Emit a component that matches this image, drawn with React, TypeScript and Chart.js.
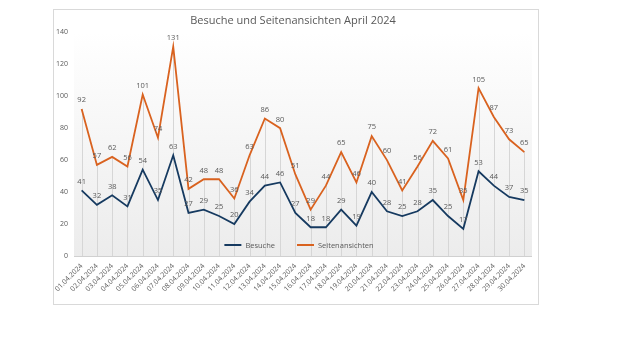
import React, { useEffect, useRef } from "react";
import { Chart, registerables } from "chart.js";

Chart.register(...registerables);

const TITLE = "Besuche und Seitenansichten April 2024";
const DATES = [
  "01.04.2024", "02.04.2024", "03.04.2024", "04.04.2024", "05.04.2024", "06.04.2024",
  "07.04.2024", "08.04.2024", "09.04.2024", "10.04.2024", "11.04.2024", "12.04.2024",
  "13.04.2024", "14.04.2024", "15.04.2024", "16.04.2024", "17.04.2024", "18.04.2024",
  "19.04.2024", "20.04.2024", "21.04.2024", "22.04.2024", "23.04.2024", "24.04.2024",
  "25.04.2024", "26.04.2024", "27.04.2024", "28.04.2024", "29.04.2024", "30.04.2024",
];
const BESUCHE = [41, 32, 38, 31, 54, 35, 63, 27, 29, 25, 20, 34, 44, 46, 27, 18, 18, 29, 19, 40, 28, 25, 28, 35, 25, 17, 53, 44, 37, 35];
const SEITEN = [92, 57, 62, 56, 101, 74, 131, 42, 48, 48, 36, 63, 86, 80, 51, 29, 44, 65, 46, 75, 60, 41, 56, 72, 61, 35, 105, 87, 73, 65];
const Y_MIN = 0;
const Y_MAX = 140;
const Y_STEP = 20;

const FONT = "'Open Sans', 'DejaVu Sans', sans-serif";
const TEXT = "#595959";
const BLUE = "#163a60";
const ORANGE = "#d9621f";

const bgPlugin = {
  id: "plotBg",
  beforeDraw(chart: any) {
    const { ctx, chartArea: a } = chart;
    const g = ctx.createLinearGradient(0, a.top, 0, a.bottom);
    g.addColorStop(0, "#ffffff");
    g.addColorStop(1, "#ececec");
    ctx.save();
    ctx.fillStyle = g;
    ctx.fillRect(a.left, a.top, a.right - a.left, a.bottom - a.top);
    ctx.restore();
  },
  beforeDatasetsDraw(chart: any) {
    const { ctx, chartArea: a } = chart;
    const metas = chart.data.datasets.map((_: any, i: number) => chart.getDatasetMeta(i));
    ctx.save();
    ctx.strokeStyle = "#d6d6d6";
    ctx.lineWidth = 1;
    const n = chart.data.labels.length;
    for (let i = 0; i < n; i++) {
      let top = a.bottom;
      let x = 0;
      metas.forEach((m: any) => {
        const p = m.data[i];
        if (p) { top = Math.min(top, p.y); x = p.x; }
      });
      ctx.beginPath();
      ctx.moveTo(Math.round(x) + 0.5, top);
      ctx.lineTo(Math.round(x) + 0.5, a.bottom);
      ctx.stroke();
    }
    ctx.strokeStyle = "#d0d0d0";
    ctx.beginPath();
    ctx.moveTo(a.left, a.bottom + 0.5);
    ctx.lineTo(a.right, a.bottom + 0.5);
    ctx.stroke();
    ctx.restore();
  },
  afterDatasetsDraw(chart: any) {
    const { ctx, chartArea: a } = chart;
    ctx.save();
    ctx.font = `7.5px ${FONT}`;
    ctx.fillStyle = TEXT;
    ctx.textAlign = "center";
    ctx.textBaseline = "bottom";
    chart.data.datasets.forEach((ds: any, di: number) => {
      const m = chart.getDatasetMeta(di);
      m.data.forEach((p: any, i: number) => {
        ctx.fillText(String(ds.data[i]), p.x, p.y - 5);
      });
    });
    const items = chart.data.datasets.map((ds: any) => ({ label: ds.label, color: ds.borderColor }));
    ctx.font = `7.5px ${FONT}`;
    ctx.textAlign = "left";
    ctx.textBaseline = "middle";
    const lineW = 17;
    const gap = 4;
    const spacing = 22;
    const widths = items.map((it: any) => lineW + gap + ctx.measureText(it.label).width);
    const total = widths.reduce((s: number, w: number) => s + w, 0) + spacing * (items.length - 1);
    let x = (a.left + a.right) / 2 - total / 2 - 4;
    const y = a.bottom - 11;
    items.forEach((it: any, i: number) => {
      ctx.strokeStyle = it.color;
      ctx.lineWidth = 2;
      ctx.beginPath();
      ctx.moveTo(x, y);
      ctx.lineTo(x + lineW, y);
      ctx.stroke();
      ctx.fillStyle = TEXT;
      ctx.fillText(it.label, x + lineW + gap, y + 0.5);
      x += widths[i] + spacing;
    });
    ctx.restore();
  },
};

export default function App() {
  const ref = useRef<HTMLCanvasElement | null>(null);
  useEffect(() => {
    if (!ref.current) return;
    const chart = new Chart(ref.current, {
      type: "line",
      data: {
        labels: DATES,
        datasets: [
          { label: "Besuche", data: BESUCHE, borderColor: BLUE, backgroundColor: BLUE, borderWidth: 1.8, pointRadius: 0, tension: 0 },
          { label: "Seitenansichten", data: SEITEN, borderColor: ORANGE, backgroundColor: ORANGE, borderWidth: 1.8, pointRadius: 0, tension: 0 },
        ],
      },
      options: {
        responsive: false,
        animation: false,
        layout: { padding: { left: 0, right: 6, top: 0, bottom: 0 } },
        plugins: {
          legend: { display: false },
          tooltip: { enabled: false },
          title: {
            display: true,
            text: TITLE,
            color: TEXT,
            font: { family: FONT, size: 11, weight: "normal" as any },
            padding: { top: 4, bottom: 5 },
          },
        },
        scales: {
          x: {
            offset: true,
            grid: { display: false, drawTicks: false },
            border: { display: false },
            ticks: {
              color: TEXT,
              font: { family: FONT, size: 7 },
              minRotation: 45,
              maxRotation: 45,
              autoSkip: false,
              padding: 6,
            },
            afterFit(scale: any) {
              scale.height = 48;
              scale.paddingLeft = 0;
              scale.paddingRight = 0;
            },
          },
          y: {
            min: Y_MIN,
            max: Y_MAX,
            grid: { display: false, drawTicks: false },
            border: { display: false },
            ticks: {
              stepSize: Y_STEP,
              color: TEXT,
              font: { family: FONT, size: 7 },
              padding: 6,
            },
            afterFit(scale: any) { scale.width = 20; },
          },
        },
      },
      plugins: [bgPlugin],
    });
    return () => chart.destroy();
  }, []);

  return (
    <div style={{ position: "fixed", left: 0, top: 0, width: 640, height: 360, background: "#fff" }}>
      <div style={{ position: "absolute", left: 53, top: 9, width: 484, height: 294, border: "1px solid #d9d9d9", background: "#fff" }}>
        <canvas ref={ref} width={484} height={294} style={{ display: "block" }} />
      </div>
    </div>
  );
}
